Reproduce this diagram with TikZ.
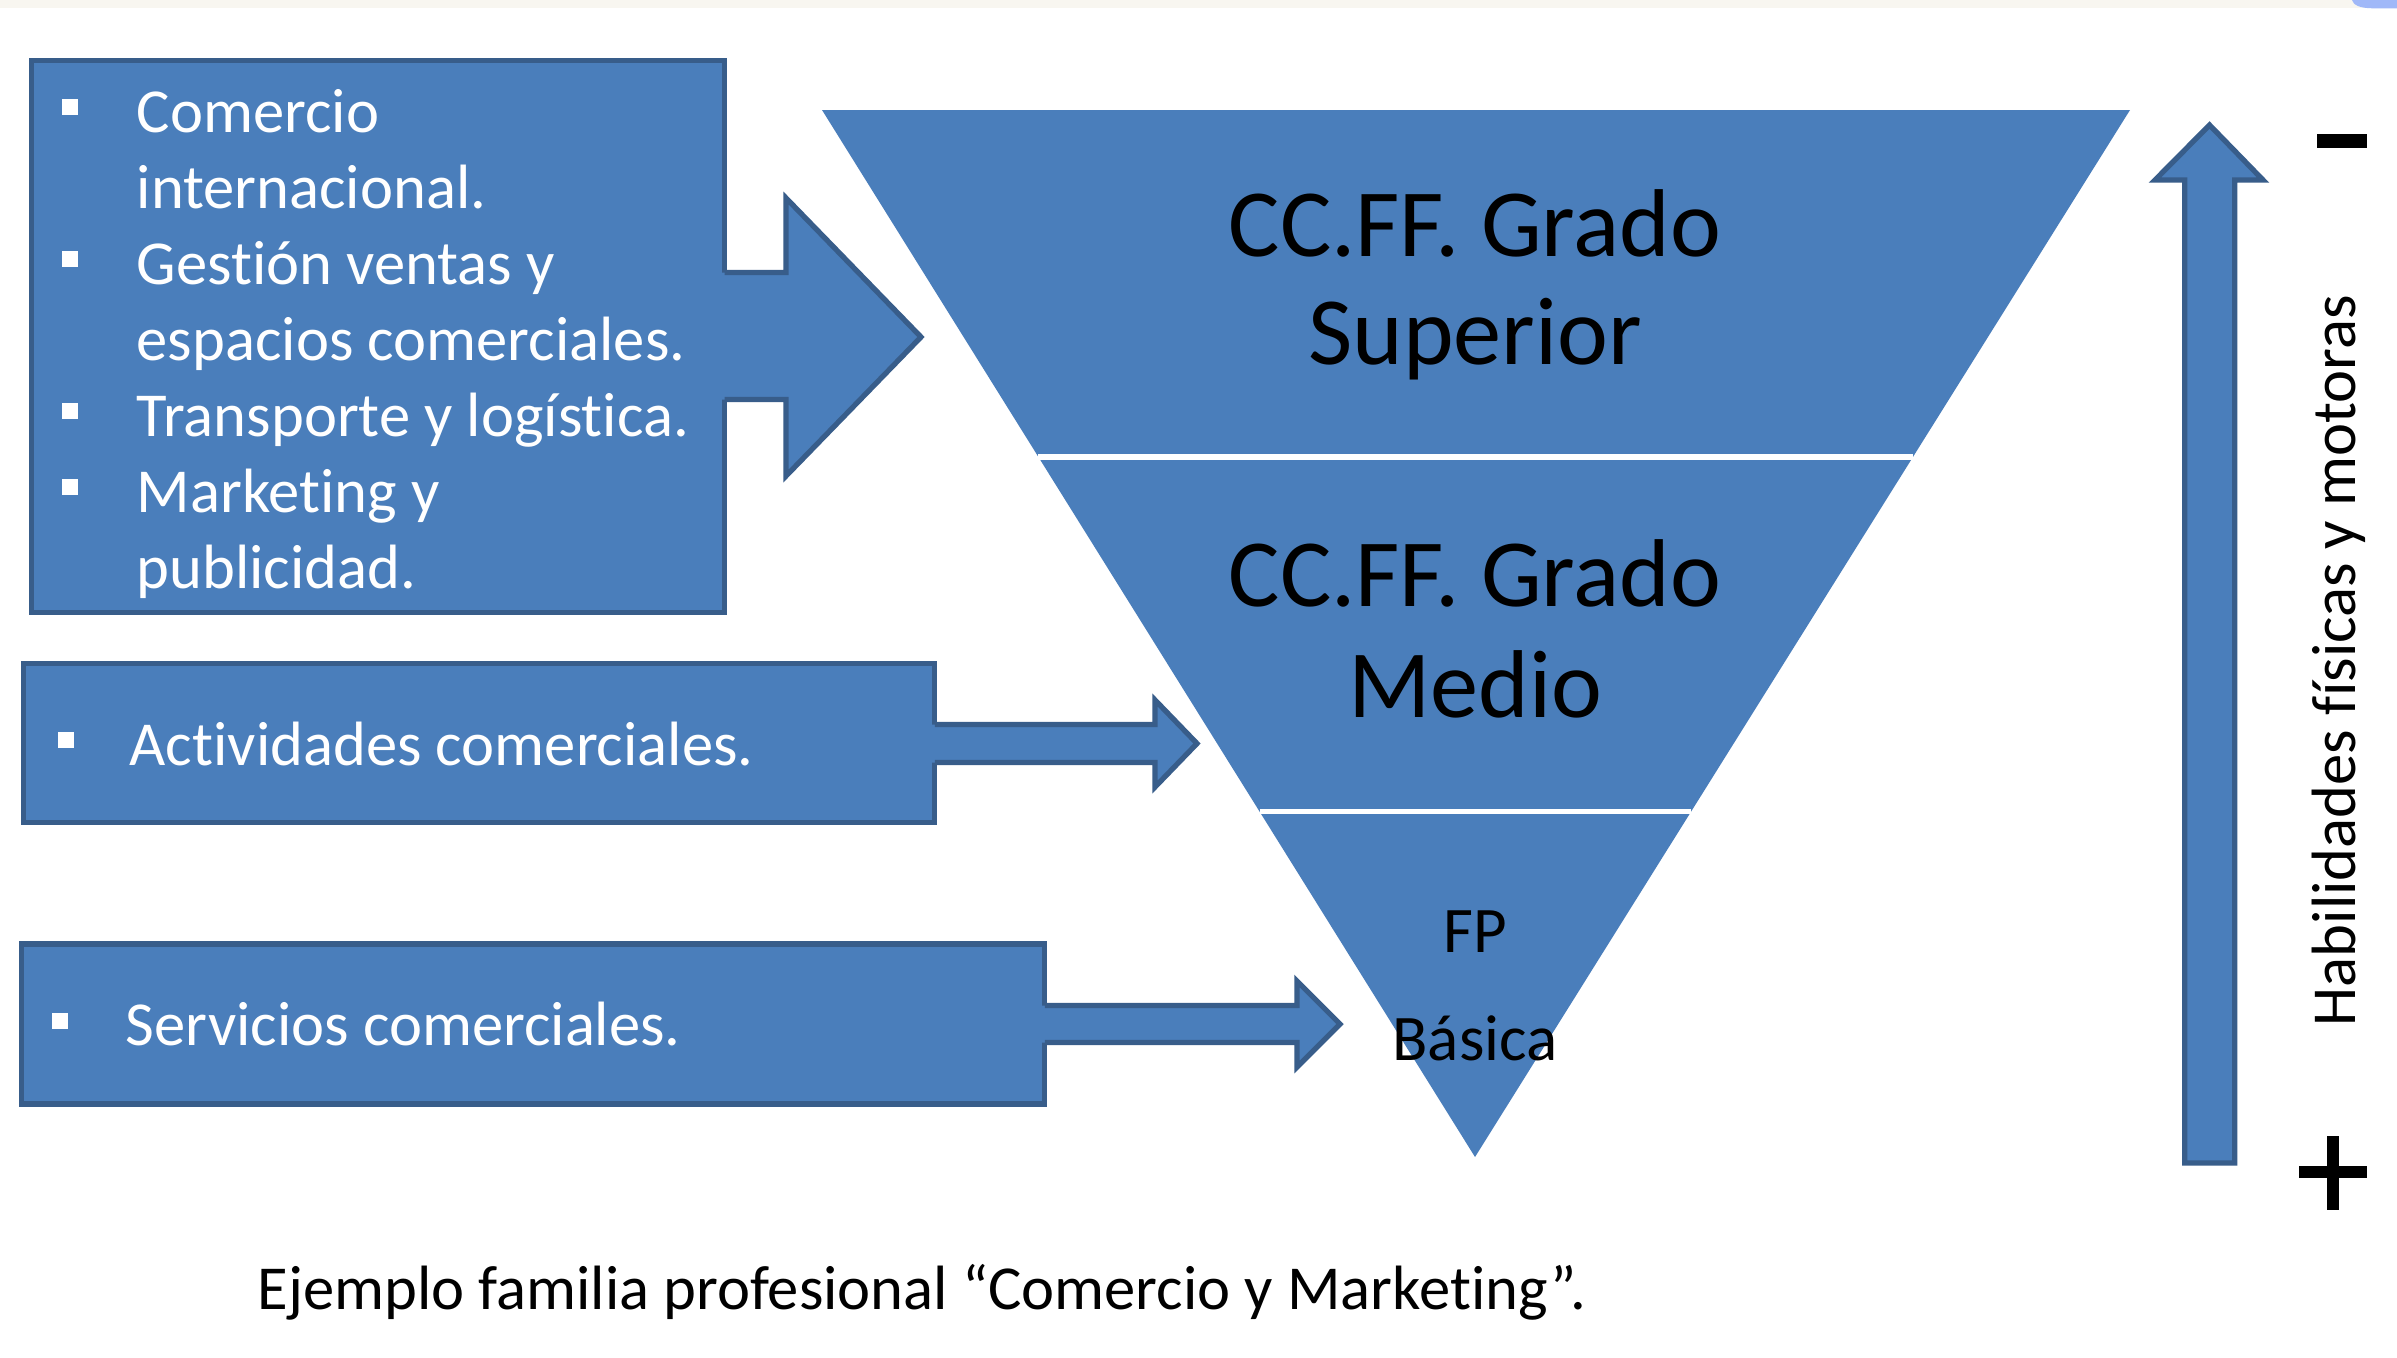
\documentclass[tikz,border=0pt]{standalone}
\usepackage{fontspec}
\setmainfont[Ligatures=NoCommon]{Carlito}
\usetikzlibrary{calc}
\definecolor{fillblue}{RGB}{74,126,187}
\definecolor{edgeblue}{RGB}{56,93,138}
\definecolor{stripbeige}{RGB}{248,246,240}
\definecolor{blobblue}{RGB}{160,184,248}
\begin{document}
\begin{tikzpicture}[x=0.01cm,y=-0.01cm,
  box/.style={draw=edgeblue, fill=fillblue, line width=1.5pt, outer sep=0pt, inner sep=0pt},
  edgeline/.style={draw=edgeblue, line width=1.5pt, line join=miter},
  wtext/.style={anchor=base west, inner sep=0pt, text=white, font=\fontsize{17.8}{21.6}\selectfont},
  sq/.style={fill=white, inner sep=0pt, minimum size=0.155cm},
  big/.style={anchor=base, inner sep=0pt, font=\fontsize{27.4}{31}\selectfont},
  small/.style={anchor=base, inner sep=0pt, font=\fontsize{18.5}{22}\selectfont},
  captext/.style={anchor=base west, inner sep=0pt, font=\fontsize{17.8}{21.6}\selectfont}
]
\useasboundingbox (0,0) rectangle (2397,1357);
\fill[white] (0,0) rectangle (2397,1357);
% top strip of the screenshot
\fill[stripbeige] (0,0) rectangle (2397,8.3);
\fill[blobblue] (2352,0) -- (2397,0) -- (2397,8.3) -- (2373,8.3) .. controls (2360,8.3) and (2353,5) .. (2352,0) -- cycle;

% inverted triangle
\coordinate (A) at (822,110);
\coordinate (B) at (2130,110);
\coordinate (C) at (1475,1157);
\fill[fillblue] (A) -- (B) -- (C) -- cycle;
\draw[white, line width=1.6pt] ($(A)!0.3314!(C)$) -- ($(B)!0.3314!(C)$);
\draw[white, line width=1.6pt] ($(A)!0.670!(C)$) -- ($(B)!0.670!(C)$);
\node[big] (gs1) at (1475,256) {CC.FF. Grado};
\node[big] (gs2) at (1475,364) {Superior};
\node[big] (gm1) at (1475,606) {CC.FF. Grado};
\node[big] (gm2) at (1475,717) {Medio};
\node[small] (fp1) at (1475,952) {FP};
\node[small] (fp2) at (1475,1060) {Básica};

% boxes
\node[box, minimum width=6.93cm, minimum height=5.51cm] (b1) at (378,336.5) {};
\node[box, minimum width=9.105cm, minimum height=1.59cm] (b2) at (479.25,743) {};
\node[box, minimum width=10.23cm, minimum height=1.60cm] (b3) at (533,1024) {};

% block arrows from boxes to the triangle
\coordinate (t1) at (921,337);
\fill[fillblue] ($(b1.east)+(-5,-64)$) -- (786,272.5) -- (786,198) -- (t1) -- (786,476) -- (786,399.5) -- ($(b1.east)+(-5,63)$) -- cycle;
\draw[edgeline] ($(b1.east)+(0,-64)$) -- (786,272.5) -- (786,198) -- (t1) -- (786,476) -- (786,399.5) -- ($(b1.east)+(0,63)$);

\coordinate (t2) at (1197,743.5);
\fill[fillblue] ($(b2.east)+(-5,-18.5)$) -- (1155,724.5) -- (1155,700) -- (t2) -- (1155,787) -- (1155,762.5) -- ($(b2.east)+(-5,19.5)$) -- cycle;
\draw[edgeline] ($(b2.east)+(0,-18.5)$) -- (1155,724.5) -- (1155,700) -- (t2) -- (1155,787) -- (1155,762.5) -- ($(b2.east)+(0,19.5)$);

\coordinate (t3) at (1340,1024);
\fill[fillblue] ($(b3.east)+(-5,-18.5)$) -- (1297,1005.5) -- (1297,981) -- (t3) -- (1297,1067) -- (1297,1042.5) -- ($(b3.east)+(-5,18.5)$) -- cycle;
\draw[edgeline] ($(b3.east)+(0,-18.5)$) -- (1297,1005.5) -- (1297,981) -- (t3) -- (1297,1067) -- (1297,1042.5) -- ($(b3.east)+(0,18.5)$);

% box 1 text
\node[sq] (s11) at (70,107) {};
\node[wtext] (l11) at (136,132) {Comercio};
\node[wtext] (l12) at (136,208) {internacional.};
\node[sq] (s12) at (70,259) {};
\node[wtext] (l13) at (136,284) {Gestión ventas y};
\node[wtext] (l14) at (136,360) {espacios comerciales.};
\node[sq] (s13) at (70,411) {};
\node[wtext] (l15) at (136,436) {Transporte y logística.};
\node[sq] (s14) at (70,487) {};
\node[wtext] (l16) at (136,512) {Marketing y};
\node[wtext] (l17) at (136,588) {publicidad.};

% box 2 text
\node[sq] (s21) at (66,740) {};
\node[wtext] (l21) at (129,765) {Actividades comerciales.};

% box 3 text
\node[sq] (s31) at (60,1021) {};
\node[wtext] (l31) at (125,1045) {Servicios comerciales.};

% vertical arrow
\fill[fillblue, draw=edgeblue, line width=1.5pt, line join=miter]
  (2184.7,1163) -- (2234.7,1163) -- (2234.7,180) -- (2263,180) -- (2209.5,125) -- (2155,180) -- (2184.7,180) -- cycle;
\node[anchor=base, inner sep=0pt, rotate=90, font=\fontsize{17.8}{21.6}\selectfont] (hab) at (2355,660.5) {Habilidades físicas y motoras};
\draw[line width=3.7pt] (2317,141) -- (2367,141);
\draw[line width=3.3pt] (2299,1172) -- (2367,1172);
\draw[line width=3.3pt] (2333,1136) -- (2333,1210);

% caption
\node[captext] (caption) at (257,1309) {Ejemplo familia profesional “Comercio y Marketing”.};
\end{tikzpicture}
\end{document}
